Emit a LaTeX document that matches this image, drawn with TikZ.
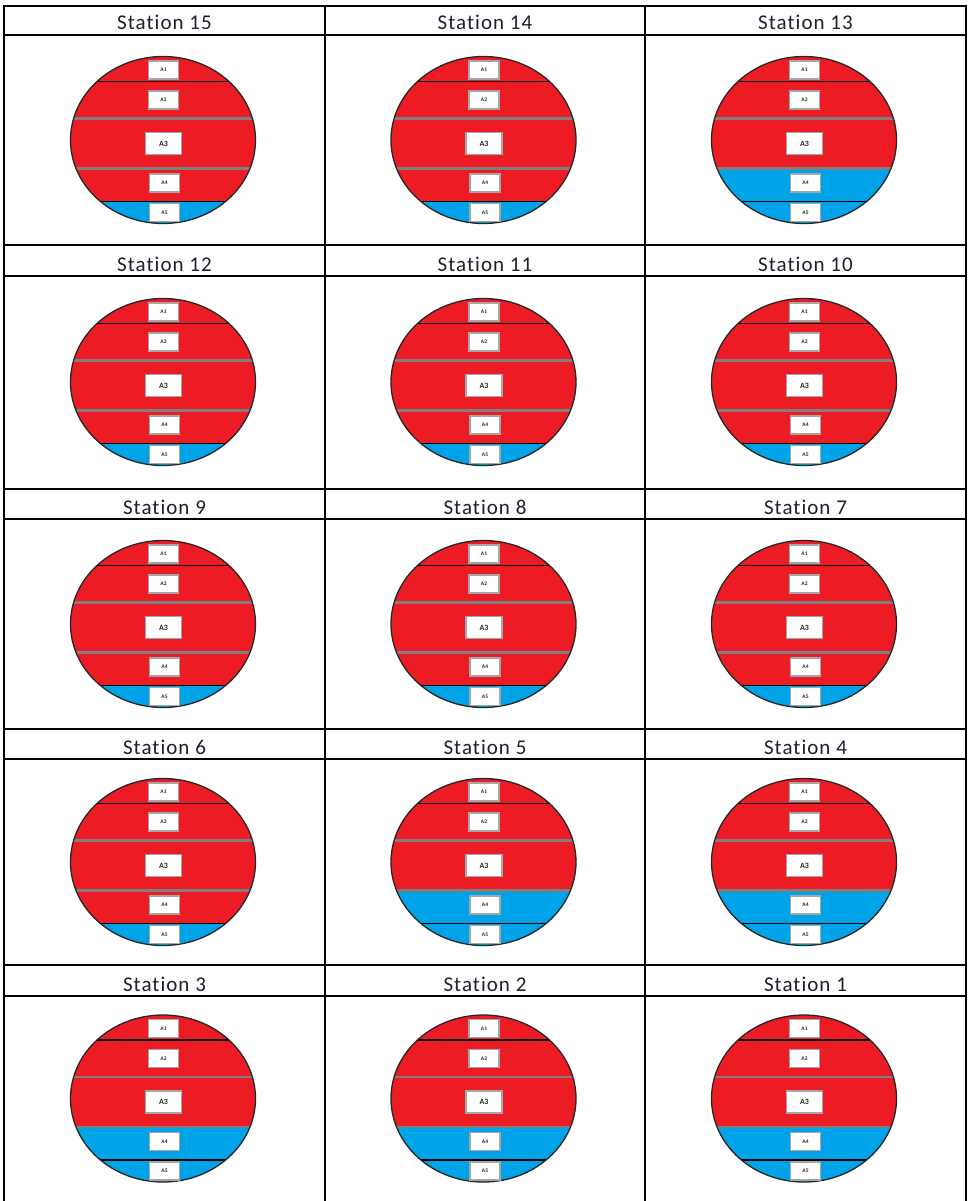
\documentclass[tikz,border=0pt]{standalone}
\usepackage{fontspec}
\newfontfamily\hdrfont[LetterSpace=5,Ligatures=NoCommon,RawFeature=-liga]{Carlito}
\newfontfamily\labfont{Carlito}
\definecolor{redband}{HTML}{ED1C24}
\definecolor{blueband}{HTML}{00A2E8}
\definecolor{divgray}{HTML}{7F7F7F}
\definecolor{boxgray}{HTML}{A6A6A6}
\definecolor{hdrtext}{HTML}{1F1F2F}
\newcommand\drawstation[4]{%
  \begin{scope}[shift={(#2,#3)}]
    \begin{scope}
      \clip (0,0) ellipse [x radius=92.5pt, y radius=83.5pt];
      \fill[redband] (-100,-90) rectangle (100,90);
      \fill[blueband] (-100,#4) rectangle (100,90);
      \draw[darkdiv] (-100,-58.5) -- (100,-58.5);
      \draw[graydiv] (-100,-21.5) -- (100,-21.5);
      \draw[graydiv] (-100,28.5) -- (100,28.5);
      \draw[darkdiv] (-100,61.5) -- (100,61.5);
    \end{scope}
    \draw[rim] (0,0) ellipse [x radius=92.5pt, y radius=83.5pt];
    \node[lab] (s#1a1) at (0.5,-70) {A1};
    \node[lab] (s#1a2) at (0.5,-40) {A2};
    \node[labbig] (s#1a3) at (0.5,3.5) {A3};
    \node[lab] (s#1a4) at (1.5,43) {A4};
    \node[lab] (s#1a5) at (1.5,72.5) {A5};
  \end{scope}}
\begin{document}
\begin{tikzpicture}[x=1pt,y=-1pt,
  gridline/.style={line width=2.4pt, black},
  hdr/.style={font=\hdrfont\fontsize{21}{25}\selectfont, text=hdrtext, anchor=base, inner sep=0pt},
  lab/.style={draw=boxgray, line width=1.3pt, fill=white, minimum width=30pt, minimum height=18pt, inner sep=0pt, text=black!85, font=\labfont\bfseries\fontsize{5.5}{6.5}\selectfont},
  labbig/.style={lab, minimum width=36pt, minimum height=22pt, font=\labfont\bfseries\fontsize{8}{9}\selectfont},
  darkdiv/.style={line width=1.6pt, black},
  graydiv/.style={line width=2.2pt, divgray},
  rim/.style={line width=1.3pt, black!85}]
\useasboundingbox (0,0) rectangle (967,1201);
\fill[white] (0,0) rectangle (967,1201);
% stations
\foreach \n/\cx/\cy/\b in {
  15/163/140/61.5, 14/483.5/140/61.5, 13/804/140/28.5,
  12/163/382/61.5, 11/483.5/382/61.5, 10/804/382/61.5,
  9/163/624/61.5, 8/483.5/624/61.5, 7/804/624/61.5,
  6/163/862/61.5, 5/483.5/862/28.5, 4/804/862/28.5,
  3/163/1098.5/28.5, 2/483.5/1098.5/28.5, 1/804/1098.5/28.5}{
  \drawstation{\n}{\cx}{\cy}{\b}
}
% headers
\foreach \n/\hx/\hy in {
  15/164.5/30, 14/485/30, 13/805.5/30,
  12/164.5/271, 11/485/271, 10/805.5/271,
  9/164.5/514, 8/485/514, 7/805.5/514,
  6/164.5/754, 5/485/754, 4/805.5/754,
  3/164.5/991, 2/485/991, 1/805.5/991}{
  \node[hdr] (h\n) at (\hx,\hy) {Station \n};
}
% table grid
\foreach \yy in {6,35,245,276,489,519,729,759,965,996}{
  \draw[gridline] (4,\yy) -- (966,\yy);
}
\foreach \xx in {4,325,645,966}{
  \draw[gridline] (\xx,4.8) -- (\xx,1201);
}
\end{tikzpicture}
\end{document}
